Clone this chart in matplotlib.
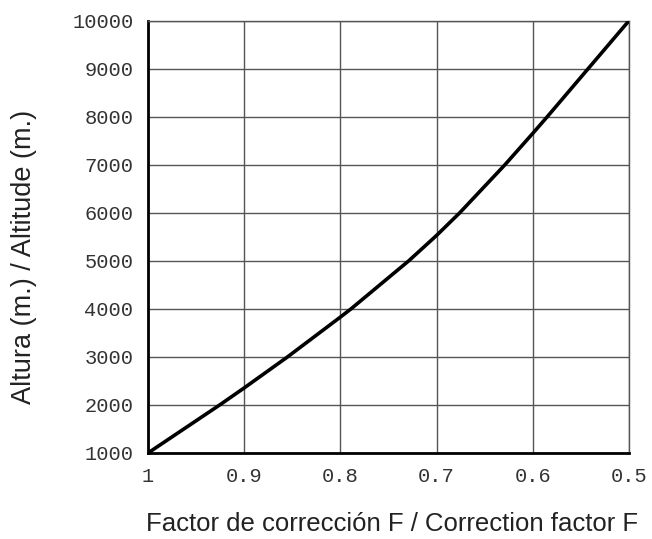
import matplotlib
matplotlib.use("Agg")
import matplotlib.pyplot as plt

# Values (correction factor F vs altitude)
factor = [1.0, 0.9255, 0.9, 0.855, 0.8, 0.789, 0.729, 0.7, 0.676, 0.629, 0.6, 0.585, 0.5425, 0.5]
altitude = [1000, 2000, 2355, 3000, 3830, 4000, 5000, 5530, 6000, 7000, 7655, 8000, 9000, 10000]

x_ticks = [1.0, 0.9, 0.8, 0.7, 0.6, 0.5]
x_tick_labels = ["1", "0.9", "0.8", "0.7", "0.6", "0.5"]
y_ticks = [1000, 2000, 3000, 4000, 5000, 6000, 7000, 8000, 9000, 10000]
y_tick_labels = ["1000", "2000", "3000", "4000", "5000", "6000", "7000", "8000", "9000", "10000"]

fig = plt.figure(figsize=(6.52, 5.39), dpi=100)
ax = fig.add_axes([148/652, 1-453/539, (629-148)/652, (453-20.7)/539])

ax.plot(factor, altitude, color="black", lw=2.6, solid_capstyle="round",
        solid_joinstyle="round", zorder=3)
ax.set_xlim(1.0, 0.5)
ax.set_ylim(1000, 10000)
ax.set_xticks(x_ticks)
ax.set_xticklabels(x_tick_labels)
ax.set_yticks(y_ticks)
ax.set_yticklabels(y_tick_labels)
ax.grid(True, color="#555555", lw=1.0)
ax.tick_params(length=0, labelsize=14.7, labelcolor="#333333")
ax.tick_params(axis="y", pad=10.5)
ax.tick_params(axis="x", pad=10)
for lab in ax.get_xticklabels() + ax.get_yticklabels():
    lab.set_fontfamily("Liberation Mono")
for s in ["top", "right"]:
    ax.spines[s].set_color("#555555")
    ax.spines[s].set_linewidth(1.0)
for s in ["left", "bottom"]:
    ax.spines[s].set_color("black")
    ax.spines[s].set_linewidth(2.0)

fig.text(392/652, 1-531/539, "Factor de corrección F / Correction factor F",
         ha="center", va="baseline", fontsize=18.5, family="Liberation Sans", color="#222222")
fig.text(24/652, 1-257/539, "Altura (m.) / Altitude (m.)", rotation=90,
         ha="center", va="center", fontsize=19.5, family="Liberation Sans", color="#222222")

fig.savefig("out.png", dpi=100)
